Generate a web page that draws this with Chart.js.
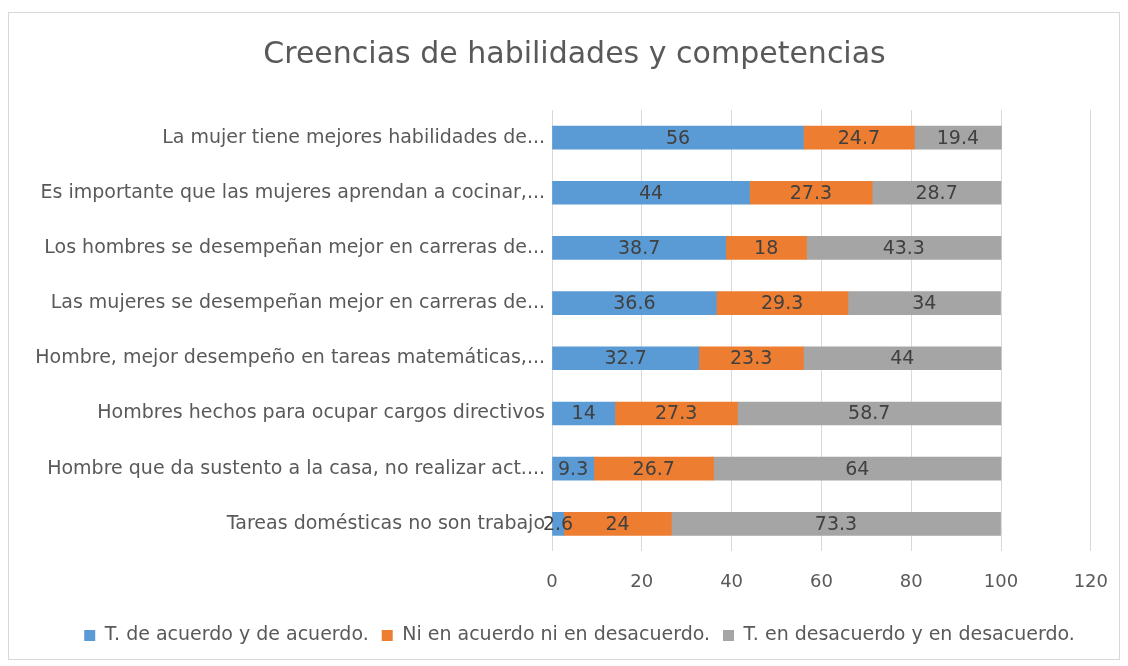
<!DOCTYPE html>
<html>
<head>
<meta charset="utf-8">
<script src="https://cdn.jsdelivr.net/npm/chart.js@4.4.0/dist/chart.umd.min.js"></script>
<style>
  body { margin: 0; background: #fff; }
  #wrap { position: absolute; left: 8px; top: 12px; width: 1110px; height: 646px; border: 1px solid #d9d9d9; }
  #frame { position: absolute; left: 0; top: 0; width: 1128px; height: 666px; }
</style>
</head>
<body>
<div id="wrap"></div>
<div id="frame"><canvas id="chart" width="1128" height="666"></canvas></div>
<script>
// data
const categories = [
  'La mujer tiene mejores habilidades de...',
  'Es importante que las mujeres aprendan a cocinar,...',
  'Los hombres se desempeñan mejor en carreras de...',
  'Las mujeres se desempeñan mejor en carreras de...',
  'Hombre, mejor desempeño en tareas matemáticas,...',
  'Hombres hechos para ocupar cargos directivos',
  'Hombre que da sustento a la casa, no realizar act....',
  'Tareas domésticas no son trabajo'
];
const acuerdo = [56, 44, 38.7, 36.6, 32.7, 14, 9.3, 2.6];
const neutral = [24.7, 27.3, 18, 29.3, 23.3, 27.3, 26.7, 24];
const desacuerdo = [19.4, 28.7, 43.3, 34, 44, 58.7, 64, 73.3];
const seriesNames = [
  'T. de acuerdo y de acuerdo.',
  'Ni en acuerdo ni en desacuerdo.',
  'T. en desacuerdo y en desacuerdo.'
];
const xTicks = [0, 20, 40, 60, 80, 100, 120];

const FONT = '"DejaVu Sans", "Noto Sans", sans-serif';

// value labels in the middle of each bar segment
const barLabels = {
  id: 'barLabels',
  afterLayout(chart) {
    // nudge title and legend a bit right, like the original
    chart.titleBlock.left += 14;
    chart.legend.left += 24;
  },
  afterDatasetsDraw(chart) {
    const ctx = chart.ctx;
    ctx.save();
    ctx.font = '19px ' + FONT;
    ctx.fillStyle = '#404040';
    ctx.textAlign = 'center';
    ctx.textBaseline = 'middle';
    chart.data.datasets.forEach((ds, i) => {
      const meta = chart.getDatasetMeta(i);
      meta.data.forEach((bar, j) => {
        const p = bar.getProps(['x', 'y', 'base'], true);
        ctx.fillText(String(ds.data[j]), (p.x + p.base) / 2, p.y + 1);
      });
    });
    ctx.restore();
  }
};

new Chart(document.getElementById('chart'), {
  type: 'bar',
  data: {
    labels: categories,
    datasets: [
      { label: seriesNames[0], data: acuerdo, backgroundColor: '#5B9BD5' },
      { label: seriesNames[1], data: neutral, backgroundColor: '#ED7D31' },
      { label: seriesNames[2], data: desacuerdo, backgroundColor: '#A5A5A5' }
    ]
  },
  options: {
    indexAxis: 'y',
    responsive: false,
    animation: false,
    barThickness: 23,
    layout: { padding: { left: 30, right: 23, top: 0, bottom: 11 } },
    plugins: {
      title: {
        display: true,
        text: 'Creencias de habilidades y competencias',
        color: '#595959',
        font: { family: FONT, size: 30, weight: 'normal' },
        padding: { top: 37, bottom: 37 }
      },
      legend: {
        position: 'bottom',
        labels: {
          color: '#595959',
          font: { family: FONT, size: 19 },
          boxWidth: 11,
          boxHeight: 11,
          padding: 13
        }
      },
      tooltip: { enabled: false }
    },
    scales: {
      x: {
        stacked: true,
        min: 0,
        max: 120,
        afterBuildTicks: s => { s.ticks = xTicks.map(v => ({ value: v })); },
        grid: { color: '#d9d9d9', drawTicks: false },
        border: { display: false },
        ticks: { color: '#595959', font: { family: FONT, size: 18 }, padding: 20 }
      },
      y: {
        stacked: true,
        grid: { display: false, drawTicks: false },
        border: { display: false },
        afterFit: s => { s.width = 522; },
        ticks: { color: '#595959', font: { family: FONT, size: 19 }, padding: 7 }
      }
    }
  },
  plugins: [barLabels]
});
</script>
</body>
</html>
